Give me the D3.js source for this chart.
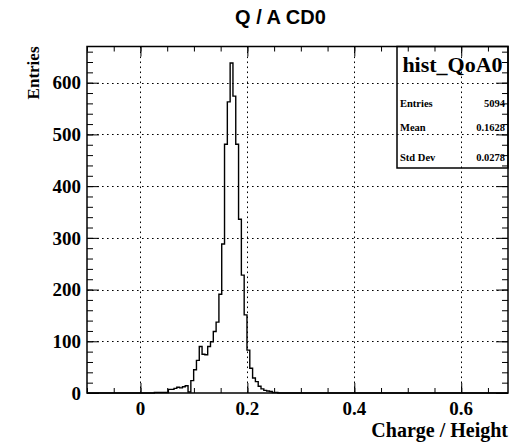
<!DOCTYPE html>
<html>
<head>
<meta charset="utf-8">
<script src="https://cdn.jsdelivr.net/npm/d3@7"></script>
<style>
  html, body { margin: 0; padding: 0; background: #fff; }
  svg { display: block; }
</style>
</head>
<body>
<svg id="chart" width="531" height="443"></svg>
<script>
// Histogram definition: 150 equal bins starting at -0.1
const histName = "hist_QoA0";
const histTitle = "Q / A CD0";
const xTitle = "Charge / Height";
const yTitle = "Entries";
const nBins = 150;
const xRange = [-0.1, 0.6875];
const yRange = [0, 670];
// counts for bins starting at index firstBin (all other bins are empty)
const firstBin = 21;
const counts = [
  0, 0, 0, 1, 1, 1, 1, 1, 7, 7,
  9, 11, 10, 12, 14, 2, 24, 45, 63, 90,
  75, 74, 90, 99, 119, 137, 191, 288, 481, 563,
  638, 574, 481, 336, 228, 151, 83, 48, 29, 22,
  13, 8, 5, 4, 3, 1, 1, 0
];
const xTicks = [0, 0.2, 0.4, 0.6];
const xTickLabels = ["0", "0.2", "0.4", "0.6"];
const yTicks = [0, 100, 200, 300, 400, 500, 600];
const yTickLabels = ["0", "100", "200", "300", "400", "500", "600"];
const statNames = ["Entries", "Mean", "Std Dev"];
const statValues = ["5094", "0.1628", "0.0278"];

const svg = d3.select("#chart");
const frame = { left: 87, right: 508, top: 46.5, bottom: 393 };
const serif = "'Liberation Serif', 'Times New Roman', serif";
const sans = "'Liberation Sans', Arial, sans-serif";

const x = d3.scaleLinear().domain(xRange).range([frame.left, frame.right]);
const y = d3.scaleLinear().domain(yRange).range([frame.bottom, frame.top]);

// grid (dotted)
const grid = svg.append("g").attr("stroke", "#000").attr("stroke-width", 1)
  .attr("stroke-dasharray", "1.6,3.4");
grid.selectAll(".gx").data(xTicks).join("line")
  .attr("x1", d => Math.round(x(d)) + 0.5).attr("x2", d => Math.round(x(d)) + 0.5)
  .attr("y1", frame.top).attr("y2", frame.bottom);
grid.selectAll(".gy").data(yTicks.filter(d => d > 0)).join("line")
  .attr("y1", d => Math.round(y(d)) + 0.5).attr("y2", d => Math.round(y(d)) + 0.5)
  .attr("x1", frame.left).attr("x2", frame.right);

// histogram outline as a step path
const binW = (xRange[1] - xRange[0]) / nBins;
const pts = [];
counts.forEach((c, i) => {
  const lo = xRange[0] + (firstBin + i) * binW;
  pts.push([x(lo), y(c)], [x(lo + binW), y(c)]);
});
svg.append("path")
  .attr("d", d3.line()([[frame.left, y(0)], [pts[0][0], y(0)], ...pts, [frame.right, y(0)]]))
  .attr("fill", "none").attr("stroke", "#000").attr("stroke-width", 1.4);

// axes with inward ticks, drawn with d3 axis generators
const xMinor = d3.range(-0.1, 0.6876, 0.05).map(v => +v.toFixed(3));
const yMinor = d3.range(0, 670, 20);
function inwardAxis(gen, transform) {
  const g = svg.append("g").attr("transform", transform).call(gen);
  g.select(".domain").remove();
  g.selectAll("text").remove();
  g.selectAll("line").attr("stroke", "#000").attr("stroke-width", 1);
  return g;
}
// bottom
inwardAxis(d3.axisBottom(x).tickValues(xMinor).tickSizeInner(-5).tickSizeOuter(0), `translate(0,${frame.bottom})`);
inwardAxis(d3.axisBottom(x).tickValues(xTicks).tickSizeInner(-10).tickSizeOuter(0), `translate(0,${frame.bottom})`);
// top
inwardAxis(d3.axisTop(x).tickValues(xMinor).tickSizeInner(-5).tickSizeOuter(0), `translate(0,${frame.top})`);
inwardAxis(d3.axisTop(x).tickValues(xTicks).tickSizeInner(-10).tickSizeOuter(0), `translate(0,${frame.top})`);
// left
inwardAxis(d3.axisLeft(y).tickValues(yMinor).tickSizeInner(-6).tickSizeOuter(0), `translate(${frame.left},0)`);
inwardAxis(d3.axisLeft(y).tickValues(yTicks).tickSizeInner(-12).tickSizeOuter(0), `translate(${frame.left},0)`);
// right
inwardAxis(d3.axisRight(y).tickValues(yMinor).tickSizeInner(-6).tickSizeOuter(0), `translate(${frame.right},0)`);
inwardAxis(d3.axisRight(y).tickValues(yTicks).tickSizeInner(-12).tickSizeOuter(0), `translate(${frame.right},0)`);

// frame
svg.append("rect")
  .attr("x", frame.left).attr("y", frame.top)
  .attr("width", frame.right - frame.left).attr("height", frame.bottom - frame.top)
  .attr("fill", "none").attr("stroke", "#000").attr("stroke-width", 1.5);

// tick labels
svg.append("g").selectAll("text").data(xTicks).join("text")
  .attr("x", d => x(d)).attr("y", frame.bottom + 22)
  .attr("text-anchor", "middle")
  .attr("font-family", serif).attr("font-weight", "bold").attr("font-size", 19)
  .text((d, i) => xTickLabels[i]);
svg.append("g").selectAll("text").data(yTicks).join("text")
  .attr("x", frame.left - 6).attr("y", d => y(d)).attr("dy", "0.35em")
  .attr("text-anchor", "end")
  .attr("font-family", serif).attr("font-weight", "bold").attr("font-size", 19)
  .text((d, i) => yTickLabels[i]);

// axis titles
svg.append("text")
  .attr("x", frame.right).attr("y", 437)
  .attr("text-anchor", "end")
  .attr("font-family", serif).attr("font-weight", "bold").attr("font-size", 20)
  .text(xTitle);
svg.append("text")
  .attr("transform", `translate(39,${frame.top}) rotate(-90)`)
  .attr("text-anchor", "end")
  .attr("font-family", serif).attr("font-weight", "bold").attr("font-size", 17)
  .text(yTitle);

// plot title
svg.append("text")
  .attr("x", 280.5).attr("y", 24)
  .attr("text-anchor", "middle")
  .attr("font-family", sans).attr("font-weight", "bold").attr("font-size", 20)
  .text(histTitle);

// statistics box
const box = { left: 397, right: 508, top: frame.top, bottom: 168 };
const sb = svg.append("g");
sb.append("rect")
  .attr("x", box.left).attr("y", box.top)
  .attr("width", box.right - box.left).attr("height", box.bottom - box.top)
  .attr("fill", "none").attr("stroke", "#000").attr("stroke-width", 1.5);
sb.append("text")
  .attr("x", (box.left + box.right) / 2).attr("y", 72)
  .attr("text-anchor", "middle")
  .attr("font-family", serif).attr("font-weight", "bold").attr("font-size", 22)
  .text(histName);
const rowY = [103, 127, 157];
statNames.forEach((n, i) => {
  sb.append("text").attr("x", box.left + 3).attr("y", rowY[i]).attr("dy", "0.35em")
    .attr("font-family", serif).attr("font-weight", "bold").attr("font-size", 10.5)
    .text(n);
  sb.append("text").attr("x", box.right - 3).attr("y", rowY[i]).attr("dy", "0.35em")
    .attr("text-anchor", "end")
    .attr("font-family", serif).attr("font-weight", "bold").attr("font-size", 10.5)
    .text(statValues[i]);
});
</script>
</body>
</html>
